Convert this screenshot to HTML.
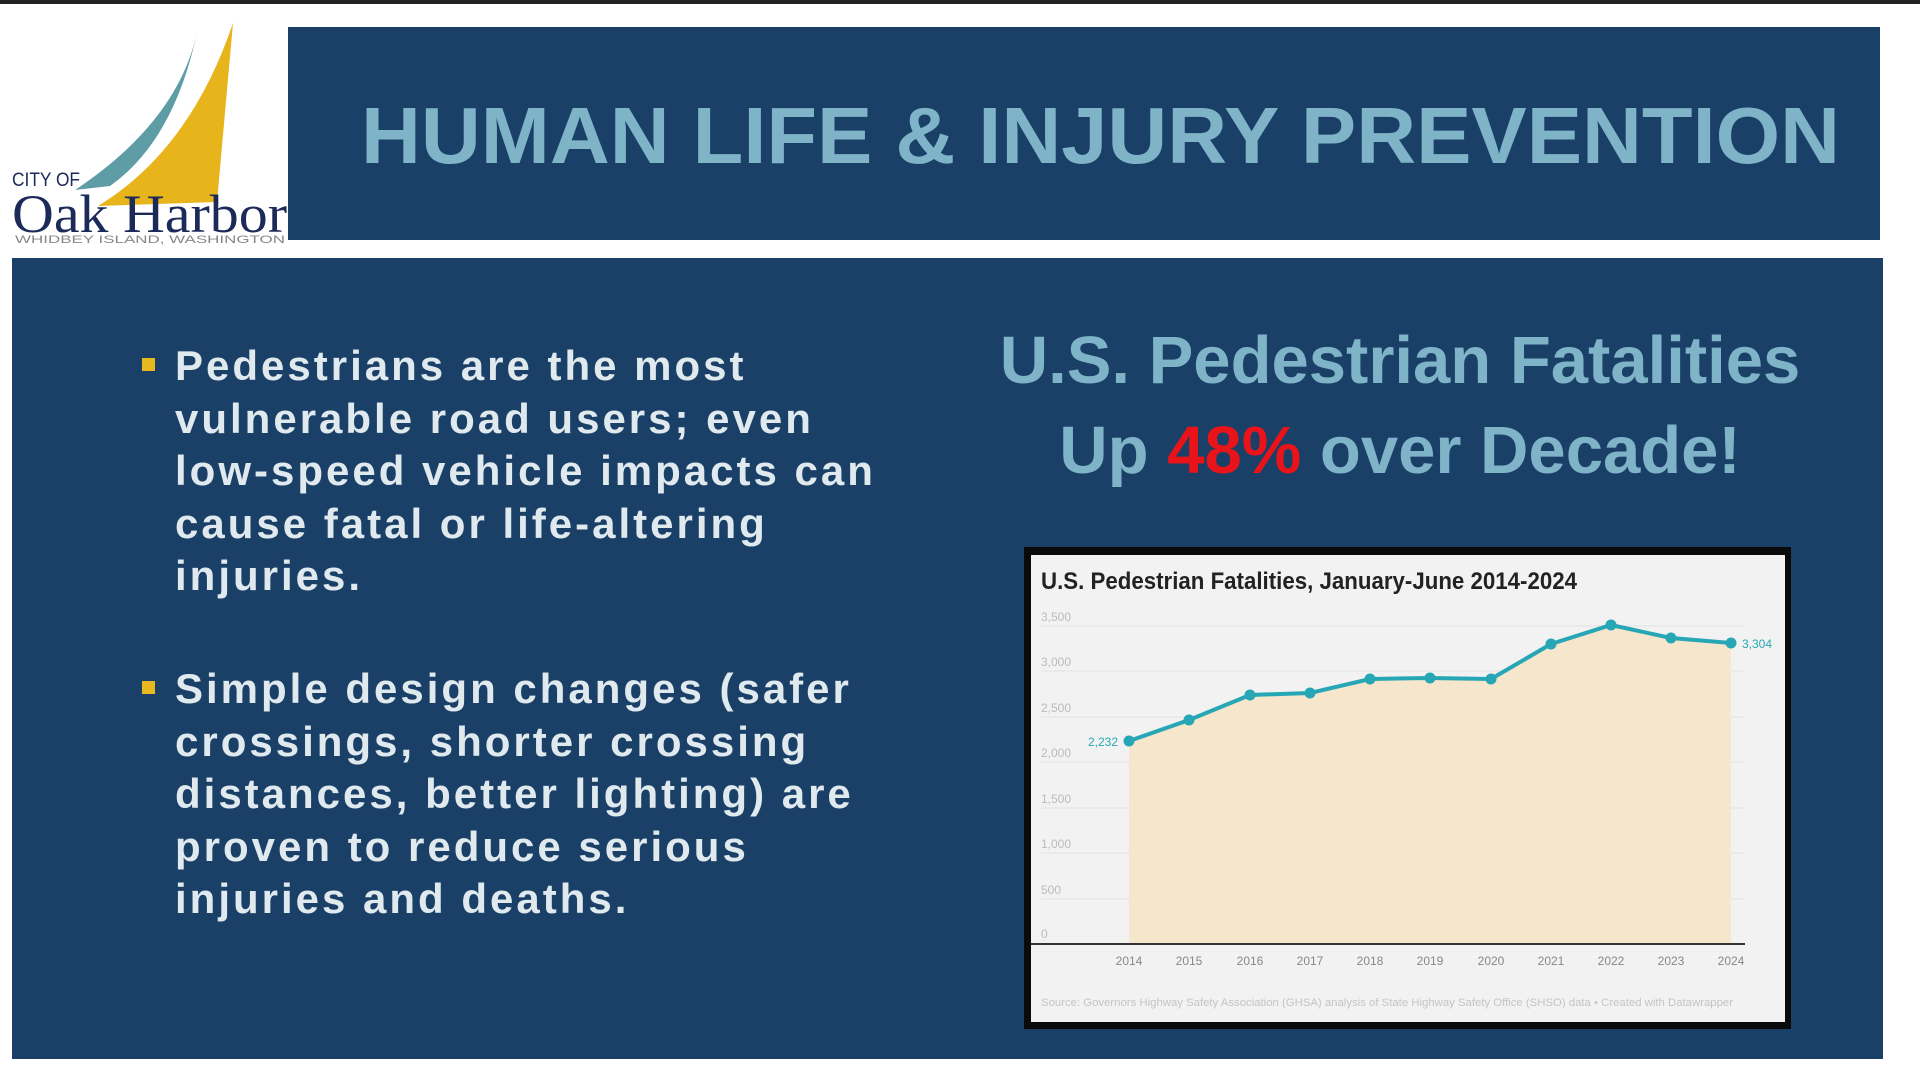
<!DOCTYPE html>
<html><head><meta charset="utf-8"><style>
html,body{margin:0;padding:0;width:1920px;height:1080px;background:#fff;overflow:hidden;font-family:"Liberation Sans",sans-serif}
.topline{position:absolute;left:0;top:0;width:1920px;height:4px;background:#222}
.title{position:absolute;left:288px;top:27px;width:1592px;height:213px;background:#1a4068}
.main{position:absolute;left:12px;top:258px;width:1871px;height:801px;background:#1a4068}
.b{position:absolute;left:175px;font-size:42px;font-weight:bold;color:#dfe9ee;letter-spacing:3px;line-height:52.6px;white-space:nowrap}
.sq{position:absolute;left:142px;width:13px;height:13px;background:#e8b820}
.h{position:absolute;left:960px;width:880px;text-align:center;font-size:67px;font-weight:bold;color:#7fb3c8;white-space:nowrap}
</style></head><body>
<div class="topline"></div>
<svg style="position:absolute;left:0;top:0" width="290" height="250">
<path d="M233,23 L217,202 L98,206 Q190,150 233,23 Z" fill="#e8b41c"/>
<path d="M198,28 Q180,120 75,190 L110,186 Q175,140 198,28 Z" fill="#5e9ca6"/>
<text x="12" y="186" font-family="Liberation Sans" font-size="19" fill="#1c2a5a" textLength="68" lengthAdjust="spacingAndGlyphs">CITY OF</text>
<text x="12" y="232" font-family="Liberation Serif" font-size="54" fill="#1c2a5a" textLength="275" lengthAdjust="spacingAndGlyphs">Oak Harbor</text>
<text x="15" y="243" font-family="Liberation Sans" font-size="11" fill="#888" textLength="270" lengthAdjust="spacingAndGlyphs">WHIDBEY ISLAND, WASHINGTON</text>
</svg>
<div class="title"></div>
<svg style="position:absolute;left:0;top:0" width="1920" height="260">
<text x="361" y="163" font-size="80" font-weight="bold" fill="#7fb3c8" textLength="1479" lengthAdjust="spacingAndGlyphs">HUMAN LIFE &amp; INJURY PREVENTION</text>
</svg>
<div class="main"></div>
<div class="sq" style="top:358px"></div>
<div class="b" style="top:340px">Pedestrians are the most<br>vulnerable road users; even<br>low-speed vehicle impacts can<br>cause fatal or life-altering<br>injuries.</div>
<div class="sq" style="top:681px"></div>
<div class="b" style="top:663px">Simple design changes (safer<br>crossings, shorter crossing<br>distances, better lighting) are<br>proven to reduce serious<br>injuries and deaths.</div>
<div class="h" style="top:322px">U.S. Pedestrian Fatalities</div>
<div class="h" style="top:412px">Up <span style="color:#e8141a">48%</span> over Decade!</div>
<svg style="position:absolute;left:0;top:0" width="1920" height="1080">
<rect x="1024" y="547" width="767" height="482" fill="#0a0a0a"/>
<rect x="1031" y="555" width="754" height="467" fill="#f2f2f2"/>
<text x="1041" y="589" font-size="24" font-weight="bold" fill="#222" textLength="536" lengthAdjust="spacingAndGlyphs">U.S. Pedestrian Fatalities, January-June 2014-2024</text>
<g stroke="#e2e2e2" stroke-width="1">
<line x1="1041" y1="626" x2="1745" y2="626"/><line x1="1041" y1="671" x2="1745" y2="671"/><line x1="1041" y1="717" x2="1745" y2="717"/><line x1="1041" y1="762" x2="1745" y2="762"/><line x1="1041" y1="808" x2="1745" y2="808"/><line x1="1041" y1="853" x2="1745" y2="853"/><line x1="1041" y1="899" x2="1745" y2="899"/>
</g>
<g font-size="12" fill="#bbb">
<text x="1041" y="621">3,500</text><text x="1041" y="666">3,000</text><text x="1041" y="712">2,500</text><text x="1041" y="757">2,000</text><text x="1041" y="803">1,500</text><text x="1041" y="848">1,000</text><text x="1041" y="894">500</text><text x="1041" y="938">0</text>
</g>
<polygon fill="#f5e6cc" points="1129,944 1129,741 1189,720 1250,695 1310,693 1370,679 1430,678 1491,679 1551,644 1611,625 1671,638 1731,643 1731,944"/>
<line x1="1031" y1="944" x2="1745" y2="944" stroke="#333" stroke-width="2"/>
<polyline fill="none" stroke="#27a7b6" stroke-width="4" points="1129,741 1189,720 1250,695 1310,693 1370,679 1430,678 1491,679 1551,644 1611,625 1671,638 1731,643"/>
<g fill="#27a7b6"><circle cx="1129" cy="741" r="5.5"/><circle cx="1189" cy="720" r="5.5"/><circle cx="1250" cy="695" r="5.5"/><circle cx="1310" cy="693" r="5.5"/><circle cx="1370" cy="679" r="5.5"/><circle cx="1430" cy="678" r="5.5"/><circle cx="1491" cy="679" r="5.5"/><circle cx="1551" cy="644" r="5.5"/><circle cx="1611" cy="625" r="5.5"/><circle cx="1671" cy="638" r="5.5"/><circle cx="1731" cy="643" r="5.5"/></g>
<text x="1088" y="746" font-size="12" fill="#27a7b6">2,232</text>
<text x="1742" y="648" font-size="12" fill="#27a7b6">3,304</text>
<g font-size="12" fill="#888" text-anchor="middle">
<text x="1129" y="965">2014</text><text x="1189" y="965">2015</text><text x="1250" y="965">2016</text><text x="1310" y="965">2017</text><text x="1370" y="965">2018</text><text x="1430" y="965">2019</text><text x="1491" y="965">2020</text><text x="1551" y="965">2021</text><text x="1611" y="965">2022</text><text x="1671" y="965">2023</text><text x="1731" y="965">2024</text>
</g>
<text x="1041" y="1006" font-size="11" fill="#c4c4c4" textLength="692" lengthAdjust="spacingAndGlyphs">Source: Governors Highway Safety Association (GHSA) analysis of State Highway Safety Office (SHSO) data • Created with Datawrapper</text>
</svg>
</body></html>
